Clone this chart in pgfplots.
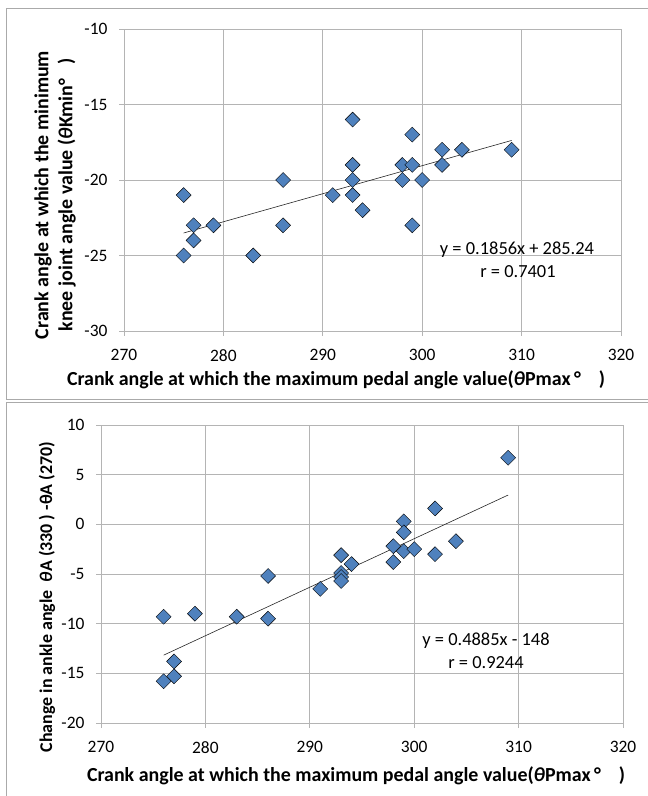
\documentclass[border=0pt]{standalone}
\usepackage{pgfplots}
\pgfplotsset{compat=1.18}
\usepackage{fontspec}
\setmainfont{Carlito}

\definecolor{markblue}{RGB}{79,129,189}
\definecolor{gridgray}{RGB}{180,180,180}
\definecolor{framegray}{RGB}{170,170,170}

\pgfplotsset{
  excelscatter/.style={
    scale only axis,
    xmin=270, xmax=320,
    xtick={270,280,...,320},
    grid=major,
    grid style={gridgray, line width=0.8bp},
    axis line style={gridgray, line width=0.8bp},
    major tick style={gridgray, line width=0.8bp},
    tick align=outside,
    major tick length=5bp,
    xtick pos=bottom, ytick pos=left,
    /pgf/number format/assume math mode=true,
    tick label style={font=\fontsize{17.5}{20}\selectfont, text=black},
    xticklabel style={yshift=-10bp},
    yticklabel style={xshift=-8bp},
  },
  diam/.style={only marks, mark=square*, mark size=5.3bp,
    mark options={rotate=45, fill=markblue, draw=none}},
  trend/.style={black!85, line width=0.6bp, no marks},
}

\begin{document}
\begin{tikzpicture}
\useasboundingbox (0,0) rectangle (648bp,796bp);

% panel frames
\draw[framegray, line width=1bp] (6bp,396bp) rectangle (660bp,787bp);
\draw[framegray, line width=1bp] (6bp,-10bp) rectangle (660bp,393bp);

% top panel
\begin{axis}[excelscatter,
  at={(124bp,465bp)}, anchor=south west,
  width=497bp, height=302bp,
  ymin=-30, ymax=-10, ytick={-30,-25,...,-10},
]
\addplot[diam] coordinates {
  (276,-21) (277,-23) (279,-23) (277,-24) (276,-25) (283,-25)
  (286,-20) (286,-23) (291,-21) (293,-16) (293,-19) (293,-20)
  (293,-21) (294,-22) (298,-19) (298,-20) (299,-17) (299,-19)
  (299,-23) (300,-20) (302,-18) (302,-19) (304,-18) (309,-18)
};
\addplot[trend] coordinates {(276,-23.51) (309,-17.38)};
\end{axis}

% bottom panel
\begin{axis}[excelscatter,
  at={(101bp,73bp)}, anchor=south west,
  width=522bp, height=298bp,
  ymin=-20, ymax=10, ytick={-20,-15,...,10},
]
\addplot[diam] coordinates {
  (309,6.7) (302,1.6) (299,0.3) (299,-0.8) (298,-2.2) (299,-2.7)
  (300,-2.5) (302,-3.0) (304,-1.7) (298,-3.8) (293,-3.1) (294,-4.0)
  (293,-4.9) (293,-5.3) (293,-5.7) (291,-6.5) (286,-5.2) (286,-9.5)
  (283,-9.3) (279,-9.0) (276,-9.3) (277,-13.8) (277,-15.3) (276,-15.8)
};
\addplot[trend] coordinates {(276,-13.17) (309,2.95)};
\end{axis}

% equations
\begin{scope}[every node/.style={font=\fontsize{18.5}{20}\selectfont, inner sep=0pt}]
\node at (517bp,546bp) {y = 0.1856x + 285.24};
\node at (518bp,524bp) {r = 0.7401};
\node at (486bp,155bp) {y = 0.4885x - 148};
\node at (486bp,133bp) {r = 0.9244};
\end{scope}

% axis titles
\begin{scope}[every node/.style={font=\bfseries\fontsize{20}{24}\selectfont, inner sep=0pt}]
\node at (336bp,416bp) {Crank angle at which the maximum pedal angle value(\textit{θ}Pmax\,°\hspace{0.9em})};
\node at (356bp,20bp) {Crank angle at which the maximum pedal angle value(\textit{θ}Pmax\,°\hspace{0.9em})};
\node[rotate=90, align=center] at (55bp,601bp) {Crank angle at which the minimum\\knee joint angle value (\textit{θ}Kmin°\hspace{0.7em})};
\node[rotate=90, font=\bfseries\fontsize{18}{22}\selectfont] at (47bp,199bp) {Change in ankle angle \ \textit{θ}A (330 ) -θA (270)};
\end{scope}
\end{tikzpicture}
\end{document}
